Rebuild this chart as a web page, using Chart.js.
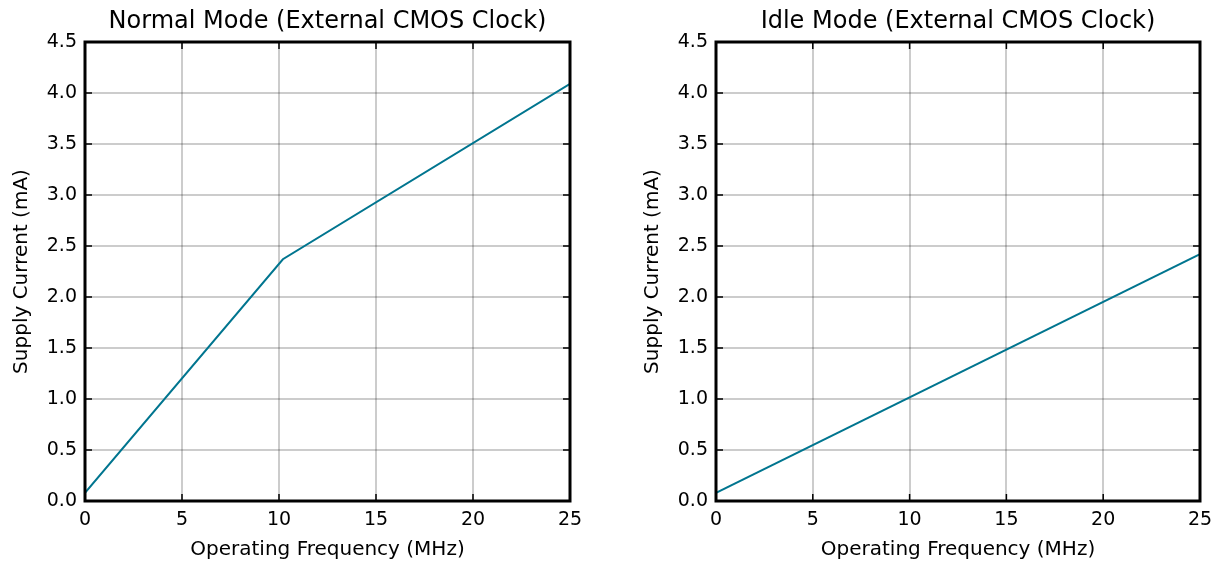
<!DOCTYPE html>
<html><head><meta charset="utf-8">
<script src="https://cdn.jsdelivr.net/npm/chart.js@4"></script>
<style>
html,body{margin:0;padding:0;background:#fff;width:1217px;height:562px;overflow:hidden;position:relative}
canvas{position:absolute;top:0}
#c1{left:0}
#c2{left:631px}
</style></head>
<body>
<canvas id="c1" width="600" height="562"></canvas>
<canvas id="c2" width="599" height="562"></canvas>
<script>
// Data
const titles = ["Normal Mode (External CMOS Clock)", "Idle Mode (External CMOS Clock)"];
const normalFreq = [0, 10.2, 25];
const normalCurrent = [0.08, 2.37, 4.09];
const idleFreq = [0, 25];
const idleCurrent = [0.08, 2.42];
const xTicks = [0, 5, 10, 15, 20, 25];
const yTicks = [0.0, 0.5, 1.0, 1.5, 2.0, 2.5, 3.0, 3.5, 4.0, 4.5];
const xLabel = "Operating Frequency (MHz)";
const yLabel = "Supply Current (mA)";
const lineColor = "#00758f";
const FONT = "'DejaVu Sans', sans-serif";

const framePlugin = {
  id: 'frame',
  afterDatasetsDraw(chart) {
    const {ctx, chartArea: a, scales} = chart;
    ctx.save();
    ctx.strokeStyle = '#000';
    ctx.lineWidth = 1.5;
    const tl = 7;
    xTicks.forEach(v => {
      const px = scales.x.getPixelForValue(v);
      ctx.beginPath();
      ctx.moveTo(px, a.bottom); ctx.lineTo(px, a.bottom - tl);
      ctx.moveTo(px, a.top); ctx.lineTo(px, a.top + tl);
      ctx.stroke();
    });
    yTicks.forEach(v => {
      const py = scales.y.getPixelForValue(v);
      ctx.beginPath();
      ctx.moveTo(a.left, py); ctx.lineTo(a.left + tl, py);
      ctx.moveTo(a.right, py); ctx.lineTo(a.right - tl, py);
      ctx.stroke();
    });
    ctx.lineWidth = 3;
    ctx.strokeRect(a.left, a.top, a.right - a.left, a.bottom - a.top);
    // title centered over plot area
    ctx.fillStyle = '#000';
    ctx.font = "24px " + FONT;
    ctx.textAlign = 'center';
    ctx.textBaseline = 'middle';
    ctx.fillText(chart.config.options.plotTitle, (a.left + a.right) / 2, 22);
    ctx.restore();
  }
};

function makeChart(id, title, xs, ys, leftWidth, rightPad) {
  const pts = xs.map((x, i) => ({x: x, y: ys[i]}));
  return new Chart(document.getElementById(id), {
    type: 'line',
    data: { datasets: [{ data: pts, borderColor: lineColor, borderWidth: 2, pointRadius: 0, fill: false, tension: 0 }] },
    options: {
      plotTitle: title,
      responsive: false,
      animation: false,
      devicePixelRatio: 1,
      layout: { padding: { top: 42, right: rightPad, bottom: 0, left: 0 } },
      plugins: {
        legend: { display: false },
        tooltip: { enabled: false },
        title: { display: false }
      },
      scales: {
        x: {
          type: 'linear', min: 0, max: 25,
          afterBuildTicks: s => { s.ticks = xTicks.map(v => ({value: v})); },
          afterFit: s => { s.height = 61; },
          ticks: { color: '#000', font: { family: FONT, size: 19 }, padding: 8, maxRotation: 0, callback: v => String(v) },
          grid: { color: 'rgba(0,0,0,0.2)', lineWidth: 2, drawTicks: false },
          border: { display: false },
          title: { display: true, text: xLabel, color: '#000', font: { family: FONT, size: 20 }, padding: { top: 4, bottom: 0 } }
        },
        y: {
          type: 'linear', min: 0, max: 4.5,
          afterBuildTicks: s => { s.ticks = yTicks.map(v => ({value: v})); },
          afterFit: s => { s.width = leftWidth; },
          ticks: { color: '#000', font: { family: FONT, size: 19 }, padding: 8, callback: v => v.toFixed(1) },
          grid: { color: 'rgba(0,0,0,0.2)', lineWidth: 2, drawTicks: false },
          border: { display: false },
          title: { display: true, text: yLabel, color: '#000', font: { family: FONT, size: 20 }, padding: { top: 10, bottom: 4 } }
        }
      }
    },
    plugins: [framePlugin]
  });
}

makeChart('c1', titles[0], normalFreq, normalCurrent, 85, 30);
makeChart('c2', titles[1], idleFreq, idleCurrent, 85, 30);
</script>
</body></html>
